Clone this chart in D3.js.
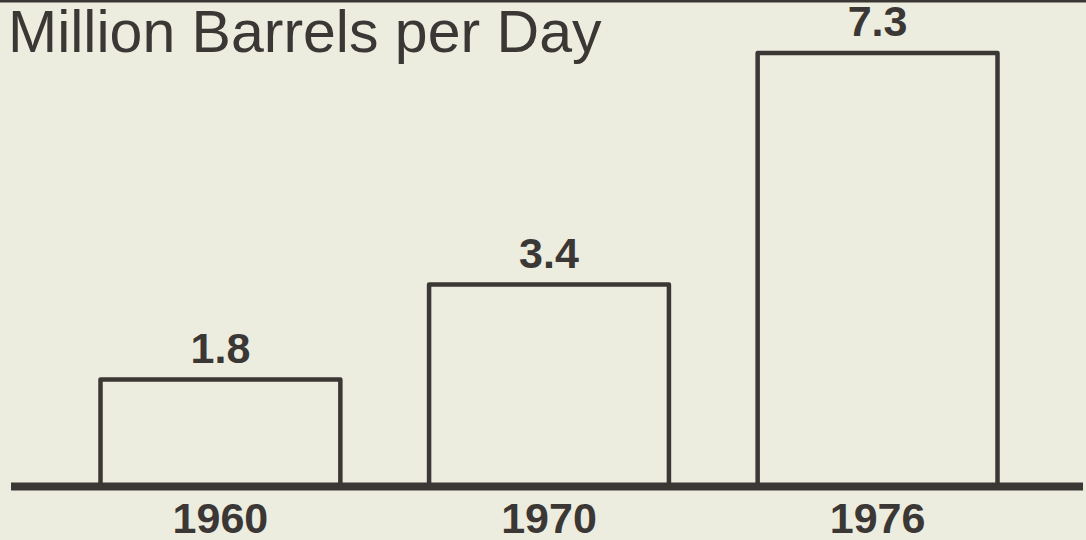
<!DOCTYPE html>
<html>
<head>
<meta charset="utf-8">
<script src="https://cdn.jsdelivr.net/npm/d3@7"></script>
<style>
	html, body { margin: 0; padding: 0; background: #ececdf; }
	svg { display: block; }
	text { font-family: "Liberation Sans", Arial, sans-serif; fill: #3b3735; }
</style>
</head>
<body>
<div class="chart"></div>
<script>
var years = ['1960', '1970', '1976'];
var barrels = [1.8, 3.4, 7.3];
var valueLabels = ['1.8', '3.4', '7.3'];
var title = 'Million Barrels per Day';

var w = 1086;
var h = 540;
var ink = '#3b3735';

var svg = d3.select('.chart')
	.append('svg')
	.attr('width', w)
	.attr('height', h);

var x = d3.scaleBand()
	.domain(years)
	.range([54.5, 1043.5])
	.paddingInner(0.27)
	.paddingOuter(0.14);

var y = d3.scaleLinear()
	.domain([0, 8])
	.range([486.5, 11.3]);

var data = years.map(function(yr, i){
	return { year: yr, val: barrels[i], label: valueLabels[i] };
});

// scan line at the very top
svg.append('line')
	.attr('x1', 0).attr('x2', w)
	.attr('y1', 1).attr('y2', 1)
	.attr('stroke', ink)
	.attr('stroke-width', 3);

svg.append('text')
	.attr('x', 8)
	.attr('y', 52)
	.attr('font-size', 59)
	.text(title);

svg.selectAll('rect.bar')
	.data(data)
	.enter()
	.append('rect')
	.attr('class', 'bar')
	.attr('x', function(d){ return x(d.year); })
	.attr('y', function(d){ return y(d.val); })
	.attr('width', x.bandwidth())
	.attr('height', function(d){ return y(0) - y(d.val); })
	.attr('fill', 'none')
	.attr('stroke', ink)
	.attr('stroke-width', 4.5)
	.attr('stroke-linejoin', 'round');

svg.selectAll('text.val')
	.data(data)
	.enter()
	.append('text')
	.attr('class', 'val')
	.attr('x', function(d){ return x(d.year) + x.bandwidth() / 2; })
	.attr('y', function(d){ return y(d.val) - 16.5; })
	.attr('text-anchor', 'middle')
	.attr('font-size', 43)
	.attr('font-weight', 'bold')
	.text(function(d){ return d.label; });

// baseline
svg.append('line')
	.attr('x1', 11).attr('x2', 1083)
	.attr('y1', y(0)).attr('y2', y(0))
	.attr('stroke', ink)
	.attr('stroke-width', 8);

var xAxis = d3.axisBottom(x).tickSize(0).tickPadding(0);
var axisG = svg.append('g')
	.attr('transform', 'translate(0,' + y(0) + ')')
	.call(xAxis);
axisG.select('.domain').remove();
axisG.selectAll('text')
	.attr('dy', null)
	.attr('y', 46.5)
	.attr('font-size', 43)
	.attr('font-weight', 'bold')
	.attr('font-family', '"Liberation Sans", Arial, sans-serif')
	.attr('fill', ink);
</script>
</body>
</html>
